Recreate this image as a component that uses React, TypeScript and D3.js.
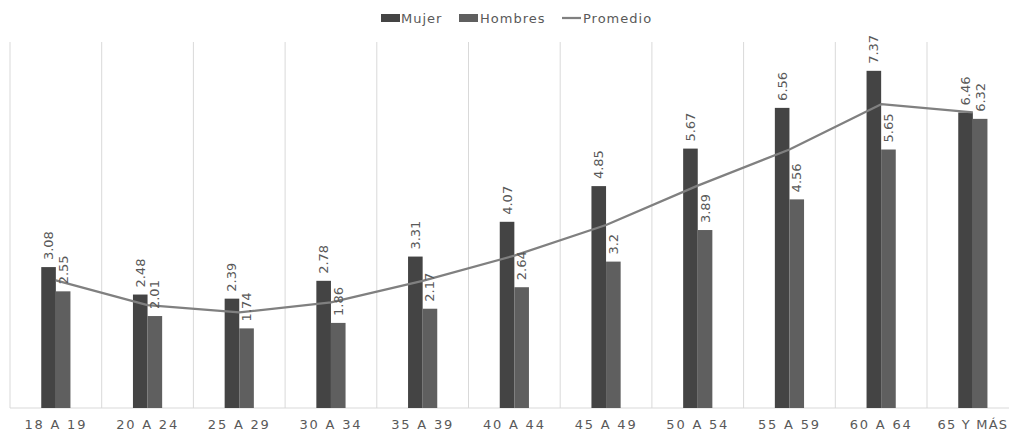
import React from "react";
import * as d3 from "d3";

const categories = ["18 A 19", "20 A 24", "25 A 29", "30 A 34", "35 A 39", "40 A 44", "45 A 49", "50 A 54", "55 A 59", "60 A 64", "65 Y MÁS"];
const mujer = [3.08, 2.48, 2.39, 2.78, 3.31, 4.07, 4.85, 5.67, 6.56, 7.37, 6.46];
const hombres = [2.55, 2.01, 1.74, 1.86, 2.17, 2.64, 3.2, 3.89, 4.56, 5.65, 6.32];
const promedio = [2.79, 2.25, 2.09, 2.31, 2.78, 3.33, 4.0, 4.86, 5.65, 6.64, 6.46];

const W = 1009;
const H = 433;
const left = 10;
const bandW = 91.7;
const top = 42;
const bottom = 408;
const barW = 14.6;

const FONT = "'DejaVu Sans', Verdana, sans-serif";
const TEXT = "#595959";

export default function App() {
  const x = d3
    .scaleBand<string>()
    .domain(categories)
    .range([left, left + bandW * categories.length])
    .padding(0);
  const y = d3.scaleLinear().domain([0, 8]).range([bottom, top]);
  const cx = (c: string) => (x(c) as number) + x.bandwidth() / 2;

  const line = d3
    .line<number>()
    .x((_, i) => cx(categories[i]))
    .y((v) => y(v))
    .curve(d3.curveLinear);

  const gridXs = d3.range(categories.length + 1).map((i) => left + i * x.bandwidth());

  return (
    <svg
      width={W}
      height={H}
      style={{ position: "absolute", left: 0, top: 0, background: "#fff" }}
      fontFamily={FONT}
    >
      {/* vertical category gridlines */}
      {gridXs.map((gx, i) => (
        <line key={i} x1={gx} x2={gx} y1={top} y2={bottom} stroke="#d9d9d9" strokeWidth={1} />
      ))}
      <line x1={left} x2={W} y1={bottom} y2={bottom} stroke="#d9d9d9" strokeWidth={1} />

      {/* bars */}
      {categories.map((c, i) => (
        <g key={c}>
          <rect x={cx(c) - barW} y={y(mujer[i])} width={barW} height={bottom - y(mujer[i])} fill="#444444" />
          <rect x={cx(c)} y={y(hombres[i])} width={barW} height={bottom - y(hombres[i])} fill="#5f5f5f" />
        </g>
      ))}

      {/* average line */}
      <path d={line(promedio) || ""} fill="none" stroke="#808080" strokeWidth={2.25} strokeLinejoin="round" />

      {/* value labels */}
      {categories.map((c, i) => (
        <g key={"l" + c} fontSize={13} fill={TEXT}>
          <text
            transform={`translate(${cx(c) - barW / 2},${y(mujer[i]) - 7}) rotate(-90)`}
            dominantBaseline="central"
          >
            {mujer[i]}
          </text>
          <text
            transform={`translate(${cx(c) + barW / 2},${y(hombres[i]) - 7}) rotate(-90)`}
            dominantBaseline="central"
          >
            {hombres[i]}
          </text>
        </g>
      ))}

      {/* category labels */}
      {categories.map((c, i) => (
        <text
          key={"x" + c}
          x={cx(c)}
          y={429}
          textAnchor="middle"
          fontSize={13}
          fill={TEXT}
          letterSpacing={i === categories.length - 1 ? 1.2 : 1.8}
        >
          {c}
        </text>
      ))}

      {/* legend */}
      <g fontSize={13} fill={TEXT} letterSpacing={1}>
        <rect x={381} y={14} width={19} height={8} fill="#444444" />
        <text x={401} y={23}>Mujer</text>
        <rect x={459} y={14} width={19} height={8} fill="#5f5f5f" />
        <text x={480} y={23}>Hombres</text>
        <line x1={562} x2={581} y1={18} y2={18} stroke="#808080" strokeWidth={2.25} />
        <text x={583} y={23}>Promedio</text>
      </g>
    </svg>
  );
}
